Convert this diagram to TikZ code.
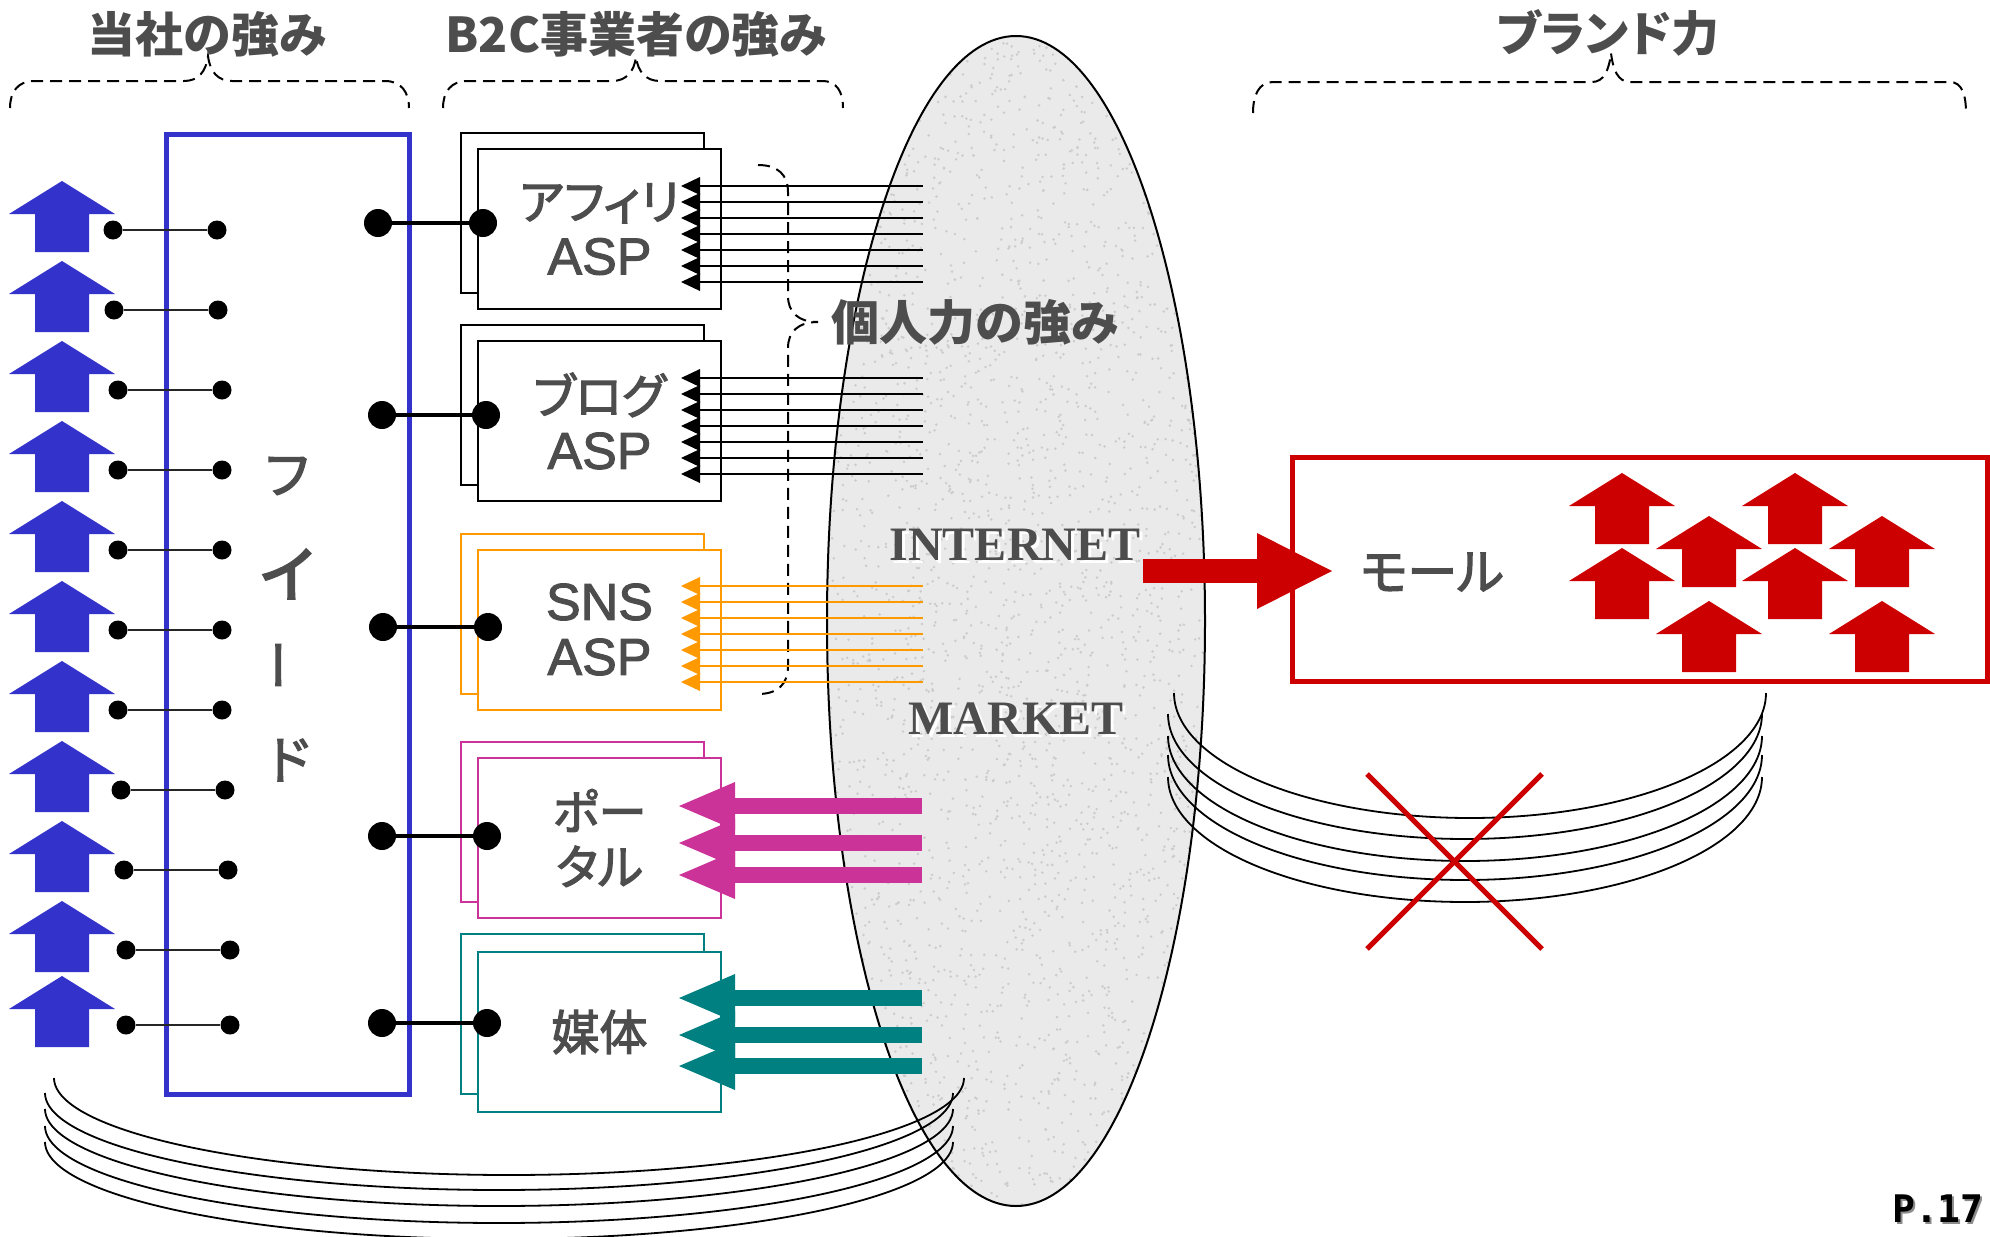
\documentclass[tikz,border=0pt]{standalone}
\usepackage{fontspec}
\setmainfont{Liberation Sans}
\newfontfamily\jp[RawFeature=+palt]{Noto Sans CJK JP}
\newfontfamily\jpm[RawFeature=+palt,FakeBold=2.5]{Noto Sans CJK JP}
\newfontfamily\lsm[FakeBold=2]{Liberation Sans}
\newfontfamily\tms{Liberation Serif}
\newfontfamily\monof{DejaVu Sans Mono}
\usetikzlibrary{arrows.meta}
\definecolor{arrowblue}{HTML}{3333CC}
\definecolor{txtgray}{HTML}{4D4D4D}
\definecolor{sorange}{HTML}{FF9900}
\definecolor{pmagenta}{HTML}{CC3399}
\definecolor{mteal}{HTML}{008080}
\definecolor{mred}{HTML}{CC0000}
\definecolor{netgray}{HTML}{EAEAEA}
\definecolor{speck}{HTML}{CCCCCC}
\tikzset{
  bluearr/.pic={\fill[arrowblue] (0,0) -- (53,33) -- (27,33) -- (27,71) -- (-27,71) -- (-27,33) -- (-53,33) -- cycle;},
  redarr/.pic={\fill[mred] (0,0) -- (53,33) -- (27,33) -- (27,71) -- (-27,71) -- (-27,33) -- (-53,33) -- cycle;}
}
\begin{document}
\begin{tikzpicture}[x=1pt,y=-1pt,
  smalldot/.style={circle,fill=black,inner sep=0pt,minimum size=19pt},
  bigdot/.style={circle,fill=black,inner sep=0pt,minimum size=28pt},
  backbox/.style={draw,line width=2pt,fill=white,minimum width=243pt,minimum height=160pt,inner sep=0pt},
  frontbox/.style={backbox,align=center,text=txtgray,font=\lsm\fontsize{52}{55}\selectfont},
  ttl/.style={text=txtgray,font=\jp\bfseries\fontsize{48}{55}\selectfont,inner sep=0pt},
  feedchar/.style={text=txtgray,font=\jpm\fontsize{52}{55}\selectfont,inner sep=0pt},
  bracelin/.style={dash pattern=on 12pt off 7pt,line width=2pt},
  arcline/.style={line width=1.8pt},
  thinarrow/.style={line width=1.8pt,-{Triangle[length=19pt,width=18pt,line width=0pt]}},
  thickarrow/.style={line width=16pt,-{Triangle[length=56pt,width=48pt,line width=0pt]}},
  nettext/.style={font=\tms\bfseries\fontsize{48}{55}\selectfont,inner sep=0pt}
]
\useasboundingbox (0,0) rectangle (1990,1237);
\clip (0,0) rectangle (1990,1237);

% internet market ellipse with speckled texture
\fill[netgray] (1016,621) ellipse [x radius=189pt, y radius=585pt];
\begin{scope}
  \clip (1016,621) ellipse [x radius=189pt, y radius=585pt];
  \pgfmathsetseed{7}
  \foreach \k in {1,...,3000}
    \fill[speck] ({1016+190*rand},{621+586*rand}) circle [radius=1.4pt];
\end{scope}
\draw[line width=2pt] (1016,621) ellipse [x radius=189pt, y radius=585pt];

% bottom-left arcs
\foreach \cx/\rx/\cy in {509/455/1078, 499/454/1093, 499/454/1109, 499/454/1126, 499/454/1142}
  \draw[arcline] plot[domain=180:360,samples=90,smooth] ({\cx+\rx*cos(\x)},{\cy-97*sin(\x)});
% right arcs
\foreach \cx/\rx/\cy in {1470/296/693, 1465/297/714, 1465/297/736, 1465/297/755, 1465/297/777}
  \draw[arcline] plot[domain=180:360,samples=90,smooth] ({\cx+\rx*cos(\x)},{\cy-125*sin(\x)});

% braces
\draw[bracelin] (10,108) .. controls (10,92) and (18,81) .. (34,81) -- (184,81) .. controls (198,81) and (206,72) .. (208,56) .. controls (210,72) and (218,81) .. (232,81) -- (385,81) .. controls (401,81) and (409,92) .. (409,108);
\draw[bracelin] (443,108) .. controls (443,92) and (451,81) .. (467,81) -- (612,81) .. controls (626,81) and (634,72) .. (636,57) .. controls (638,72) and (646,81) .. (660,81) -- (822,81) .. controls (837,81) and (843,92) .. (843,108);
\draw[bracelin] (1253,113) .. controls (1253,95) and (1259,82) .. (1273,82) -- (1592,82) .. controls (1604,82) and (1609,70) .. (1611,53) .. controls (1613,70) and (1618,82) .. (1630,82) -- (1950,82) .. controls (1962,82) and (1966,95) .. (1966,113);
\draw[bracelin] (758,165) .. controls (778,165) and (788,175) .. (788,192) -- (788,296) .. controls (788,312) and (798,322) .. (818,322) .. controls (798,322) and (788,332) .. (788,348) -- (788,666) .. controls (788,684) and (778,694) .. (758,694);

% titles
\node[ttl] (t1) at (207,34) {当社の強み};
\node[ttl] (t2) at (636,34) {B2C事業者の強み};
\node[ttl] (t3) at (1608,33) {ブランド力};
\node[ttl] (t4) at (975,322) {個人力の強み};

% feed box and blue arrows
\node[draw=arrowblue,line width=5pt,minimum width=243pt,minimum height=960pt,inner sep=0pt] (feed) at (287.5,614) {};
\foreach \t in {181,261,341,421,501,581,661,741,821,901,976}
  \pic at (62,\t) {bluearr};
\node[feedchar] (f1) at (287,476) {フ};
\node[feedchar,font=\jpm\fontsize{72}{72}\selectfont] (f2) at (287,574) {ィ};
\node[feedchar,rotate=90] (f3) at (287,665) {ー};
\node[feedchar] (f4) at (289,760) {ド};

% small connectors
\foreach \y/\a [count=\i] in {230/113, 310/114, 390/118, 470/118, 550/118, 630/118, 710/118, 790/121, 870/124, 950/126, 1025/126} {
  \node[smalldot] (sl\i) at (\a,\y) {};
  \node[smalldot] (sr\i) at ({\a+104},\y) {};
  \draw[line width=1.5pt,black!85] (sl\i) -- (sr\i);
}

% B2C boxes
\node[backbox] (afB) at (582.5,213) {};
\node[frontbox] (afF) at (599.5,229) {{\jpm\fontsize{48}{55}\selectfont アフィリ}\\ASP};
\node[backbox] (blB) at (582.5,405) {};
\node[frontbox] (blF) at (599.5,421) {{\jpm\fontsize{48}{55}\selectfont ブログ}\\ASP};
\node[backbox,draw=sorange] (snB) at (582.5,613.5) {};
\node[frontbox,draw=sorange] (snF) at (599.5,629.5) {SNS\\ASP};
\node[backbox,draw=pmagenta] (poB) at (582.5,822) {};
\node[frontbox,draw=pmagenta] (poF) at (599.5,838) {{\jpm\fontsize{48}{55}\selectfont ポー}\\{\jpm\fontsize{48}{55}\selectfont タル}};
\node[backbox,draw=mteal] (meB) at (582.5,1014) {};
\node[frontbox,draw=mteal] (meF) at (599.5,1032) {{\jpm\fontsize{48}{55}\selectfont 媒体}};

% feed to box connectors
\foreach \y/\a/\b [count=\i] in {223/378/483, 415/382/486, 627/383/488, 836/382/487, 1023/382/487} {
  \node[bigdot] (bl\i) at (\a,\y) {};
  \node[bigdot] (br\i) at (\b,\y) {};
  \draw[line width=4.5pt] (bl\i) -- (br\i);
}

% line bundles
\foreach \y [count=\i] in {186,202,218,234,250,266,282} {
  \coordinate (afs\i) at (923,\y); \coordinate (aft\i) at (681,\y);
  \draw[thinarrow] (afs\i) -- (aft\i);
}
\foreach \y [count=\i] in {378,394,410,426,442,458,474} {
  \coordinate (bls\i) at (923,\y); \coordinate (blt\i) at (681,\y);
  \draw[thinarrow] (bls\i) -- (blt\i);
}
\foreach \y [count=\i] in {586,602,618,634,650,666,682} {
  \coordinate (sns\i) at (923,\y); \coordinate (snt\i) at (681,\y);
  \draw[thinarrow,sorange] (sns\i) -- (snt\i);
}
\foreach \y [count=\i] in {806,843,875} {
  \coordinate (pos\i) at (922,\y); \coordinate (pot\i) at (679,\y);
  \draw[thickarrow,pmagenta] (pos\i) -- (pot\i);
}
\foreach \y [count=\i] in {998,1035,1066} {
  \coordinate (mes\i) at (922,\y); \coordinate (met\i) at (679,\y);
  \draw[thickarrow,mteal] (mes\i) -- (met\i);
}

% internet market text
\node[nettext,text=white] (netsh) at (1018,548) {INTERNET};
\node[nettext,text=txtgray] (net) at (1015,545) {INTERNET};
\node[nettext,text=white] (mksh) at (1019,722) {MARKET};
\node[nettext,text=txtgray] (mk) at (1016,719) {MARKET};

% mall
\node[draw=mred,line width=5pt,minimum width=695pt,minimum height=224pt,inner sep=0pt] (mallbox) at (1639.5,569) {};
\node[text=txtgray,font=\jpm\fontsize{50}{55}\selectfont,inner sep=0pt] (mall) at (1432,572) {モール};
\coordinate (netA) at (1143,571);
\coordinate (netB) at (1332,571);
\draw[line width=24pt,mred,-{Triangle[length=75pt,width=76pt,line width=0pt]}] (netA) -- (netB);
\foreach \px/\py in {1622/473, 1795/473, 1709/516, 1882/516, 1622/548, 1795/548, 1709/601, 1882/601}
  \pic at (\px,\py) {redarr};

% cross
\draw[mred,line width=5pt] (1367,774) -- (1542,949);
\draw[mred,line width=5pt] (1542,774) -- (1367,949);

% page number
\node[anchor=base west,inner sep=0pt,text=black!45,font=\monof\bfseries\fontsize{38}{38}\selectfont] (pgsh) at (1894,1224) {P.17};
\node[anchor=base west,inner sep=0pt,text=black,font=\monof\bfseries\fontsize{38}{38}\selectfont] (pg) at (1892,1222) {P.17};
\end{tikzpicture}
\end{document}
